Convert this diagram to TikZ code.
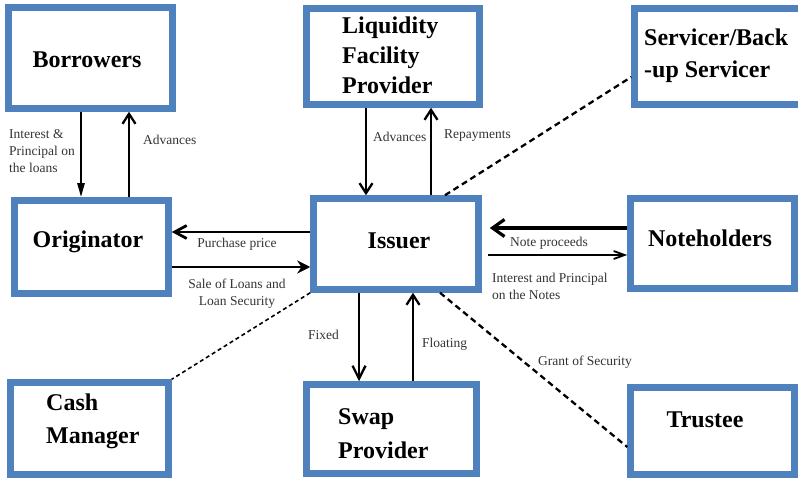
\documentclass[tikz,border=0pt]{standalone}
\usepackage{xcolor}
\usepackage{fontspec}
\setmainfont{Liberation Serif}
\usetikzlibrary{arrows.meta, calc}
\definecolor{boxblue}{RGB}{79,129,189}

\begin{document}
\begin{tikzpicture}[x=1pt, y=-1pt, >={Straight Barb[length=10pt, width=13pt]},
  box/.style={draw=boxblue, line width=6.5pt, inner sep=0pt},
  title/.style={font=\fontsize{24}{30}\selectfont\bfseries, inner sep=0pt},
  lbl/.style={font=\fontsize{13.5}{17}\selectfont, text=black!80, inner sep=0pt},
  flow/.style={->, line width=2.3pt},
  link/.style={line width=2.3pt, dash pattern=on 6pt off 4pt}]
  \useasboundingbox (0,0) rectangle (798,478);
  \node[box, minimum width=164pt, minimum height=101pt] (borrowers) at (90.5,58) {};
  \node[box, minimum width=173pt, minimum height=96pt] (liquidity) at (393,56.5) {};
  \node[box, minimum width=176pt, minimum height=96pt] (servicer) at (722.5,56.5) {};
  \node[box, minimum width=154pt, minimum height=93pt] (originator) at (91.5,247) {};
  \node[box, minimum width=165pt, minimum height=91pt] (issuer) at (396,244) {};
  \node[box, minimum width=164pt, minimum height=90pt] (noteholders) at (712.5,243.5) {};
  \node[box, minimum width=158pt, minimum height=92pt] (cash) at (89.5,428.5) {};
  \node[box, minimum width=170pt, minimum height=89pt] (swap) at (391.5,429) {};
  \node[box, minimum width=164pt, minimum height=87pt] (trustee) at (712.5,431) {};
  \node[title, anchor=base] (borrowersTxt) at (87,68) {Borrowers};
  \node[title, anchor=north west, align=left] (liquidityTxt) at (342,16.5) {Liquidity\\Facility\\Provider};
  \node[title, anchor=north west, align=left, font=\fontsize{24}{32}\selectfont\bfseries] (servicerTxt) at (644,28.5) {Servicer/Back\\-up Servicer};
  \node[title, anchor=base] (originatorTxt) at (88,248) {Originator};
  \node[title, anchor=base] (issuerTxt) at (399,249) {Issuer};
  \node[title, anchor=base] (noteholdersTxt) at (710,247) {Noteholders};
  \node[title, anchor=north west, align=left, font=\fontsize{24}{33}\selectfont\bfseries] (cashTxt) at (46,393.5) {Cash\\Manager};
  \node[title, anchor=north west, align=left, font=\fontsize{24}{34}\selectfont\bfseries] (swapTxt) at (338,408.5) {Swap\\Provider};
  \node[title, anchor=base] (trusteeTxt) at (705,427) {Trustee};
  \draw[flow, -{Triangle[length=14pt, width=7pt]}] ([xshift=-9.5pt]borrowers.south) -- ([xshift=-10.5pt]originator.north);
  \draw[flow] ([xshift=37.5pt]originator.north) -- ([xshift=38.5pt]borrowers.south);
  \draw[flow] ([xshift=-27pt]liquidity.south) -- ([xshift=-30pt]issuer.north);
  \draw[flow] ([xshift=35pt]issuer.north) -- ([xshift=38pt]liquidity.south);
  \draw[link] ([xshift=49pt]issuer.north) -- ([yshift=-20.5pt]servicer.west);
  \draw[flow, line width=2.8pt, -{Straight Barb[length=12pt, width=13pt]}] ([yshift=12pt]issuer.west) -- ([yshift=15pt]originator.east);
  \draw[flow, line width=2.8pt, -{Stealth[length=13pt, width=13pt]}] ([yshift=-20pt]originator.east) -- ([yshift=-23pt]issuer.west);
  \draw[flow, line width=3.2pt, -{Straight Barb[length=12pt, width=17pt]}] ([yshift=15.5pt]noteholders.west) -- ([xshift=8pt, yshift=16pt]issuer.east);
  \draw[flow, line width=1.8pt, -{Straight Barb[length=11pt, width=8pt]}] ([xshift=6pt, yshift=-11pt]issuer.east) -- ([yshift=-11.5pt]noteholders.west);
  \draw[link, line width=1.6pt, dash pattern=on 4pt off 3pt] (issuer.south west) -- (cash.north east);
  \draw[flow, -{Straight Barb[length=13pt, width=13pt]}] ([xshift=-37pt]issuer.south) -- ([xshift=-32.5pt]swap.north);
  \draw[flow] ([xshift=21.5pt]swap.north) -- ([xshift=17pt]issuer.south);
  \draw[link] ([xshift=44pt]issuer.south) -- ([yshift=-16pt]trustee.west);
  \node[lbl, anchor=north west, align=left] (interestLoans) at (9,129) {Interest \&\\Principal on\\the loans};
  \node[lbl, anchor=base west] (advancesB) at (143,145) {Advances};
  \node[lbl, anchor=base west] (advancesL) at (373,142) {Advances};
  \node[lbl, anchor=base west] (repayments) at (444,139) {Repayments};
  \node[lbl, anchor=base] (purchase) at (237,248) {Purchase price};
  \node[lbl, anchor=north, align=center] (saleLoans) at (237,279) {Sale of Loans and\\Loan Security};
  \node[lbl, anchor=base] (noteProceeds) at (549,247) {Note proceeds};
  \node[lbl, anchor=north west, align=left] (interestNotes) at (492,273) {Interest and Principal\\on the Notes};
  \node[lbl, anchor=base west] (fixed) at (308,340) {Fixed};
  \node[lbl, anchor=base west] (floating) at (422,348) {Floating};
  \node[lbl, anchor=base west] (grant) at (538,366) {Grant of Security};
\end{tikzpicture}
\end{document}
